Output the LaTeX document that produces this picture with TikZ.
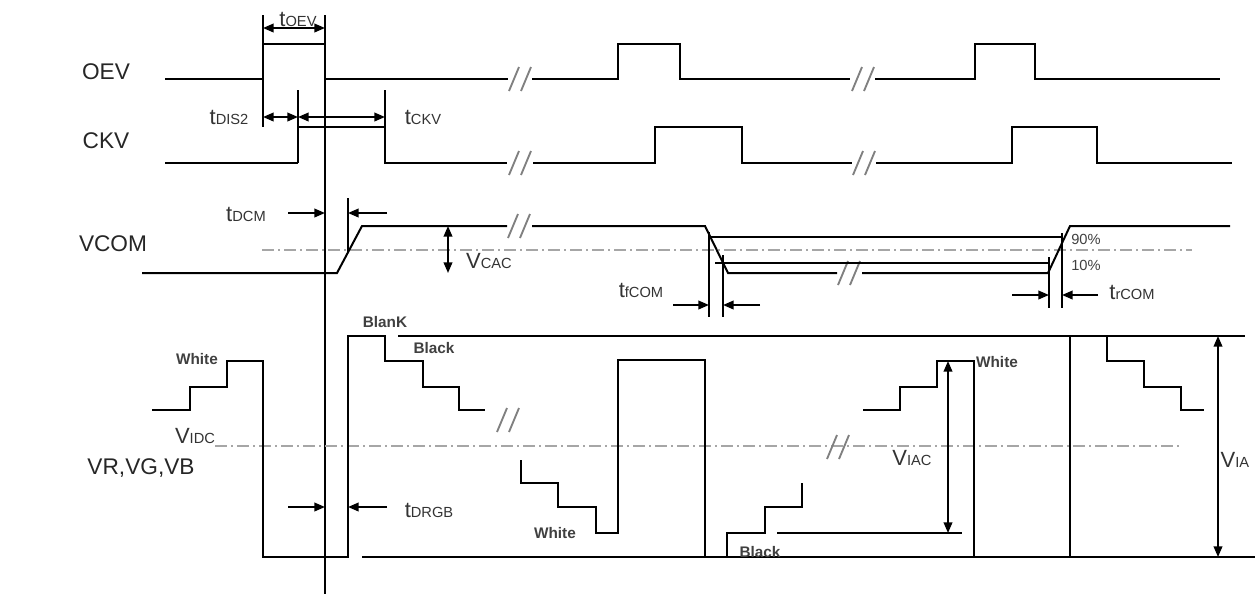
\documentclass[tikz,border=0pt]{standalone}
\usepackage{fontspec}
\setmainfont{Liberation Sans}
\usetikzlibrary{arrows.meta}
\newcommand\lowtxt[1]{{\fontsize{11}{11}\selectfont #1}}
\newcommand\brkmark[2]{%
  \draw[brk] ({#1-11},{#2+12})--({#1-1},{#2-12});
  \draw[brk] ({#1+1},{#2+12})--({#1+11},{#2-12});}
\tikzset{
  sig/.style={line width=1.5pt, line join=miter},
  dd/.style={black!35, line width=1.1pt, dash pattern=on 9pt off 3pt on 1.5pt off 3pt},
  brk/.style={black!50, line width=1.4pt},
  dim/.style={line width=1.3pt, -{Triangle[length=8pt,width=6.5pt]}},
  ddim/.style={line width=1.3pt, {Triangle[length=8pt,width=6.5pt]}-{Triangle[length=8pt,width=6.5pt]}},
  big/.style={font=\fontsize{17}{17}\selectfont, text=black!85, inner sep=0pt},
  tl/.style={font=\fontsize{16.5}{16.5}\selectfont, text=black!80, inner sep=0pt},
  wb/.style={font=\bfseries\fontsize{11.5}{11.5}\selectfont, text=black!75, inner sep=0pt},
  pct/.style={font=\fontsize{11}{11}\selectfont, text=black!75, inner sep=0pt},
}
\begin{document}
\begin{tikzpicture}[x=0.75pt,y=-0.75pt]
\useasboundingbox (0,0) rectangle (1257,594);
% ---------- signal names
\node[big] (nOEV) at (106,72) {OEV};
\node[big] (nCKV) at (106,141) {CKV};
\node[big] (nVCOM) at (113,244) {VCOM};
\node[big] (nVR) at (141,468) {VR,VG,VB};
% ---------- OEV
\draw[sig] (165,79)--(263,79);
\draw[sig] (263,15)--(263,127);
\draw[sig] (263,44)--(325,44);
\draw[sig] (325,15)--(325,594);
\draw[sig] (325,79)--(508,79);
\brkmark{520}{79}
\draw[sig] (532,79)--(618,79)--(618,44)--(680,44)--(680,79)--(850,79);
\brkmark{863}{79}
\draw[sig] (875,79)--(975,79)--(975,44)--(1035,44)--(1035,79)--(1220,79);
\draw[ddim] (263,28)--(325,28);
\node[tl] (ltOEV) at (298,19) {t\lowtxt{OEV}};
% ---------- CKV
\draw[sig] (165,163)--(298,163);
\draw[sig] (298,90)--(298,163);
\draw[sig] (298,127)--(385,127);
\draw[sig] (385,90)--(385,163)--(507,163);
\brkmark{520}{163}
\draw[sig] (533,163)--(655,163)--(655,127)--(742,127)--(742,163)--(852,163);
\brkmark{864}{163}
\draw[sig] (876,163)--(1012,163)--(1012,127)--(1097,127)--(1097,163)--(1232,163);
\draw[ddim] (263,117)--(298,117);
\draw[ddim] (298,117)--(385,117);
\node[tl] (ltDIS) at (229,117) {t\lowtxt{DIS2}};
\node[tl] (ltCKV) at (423,117) {t\lowtxt{CKV}};
% ---------- VCOM
\draw[dd] (262,250)--(1192,250);
\draw[sig] (142,273)--(337,273)--(362,226)--(507,226);
\brkmark{519}{226}
\draw[sig] (532,226)--(705,226)--(728,273)--(837,273);
\brkmark{849}{273}
\draw[sig] (862,273)--(1048,273)--(1070,226)--(1230,226);
\draw[sig] (709,237)--(1062,237);
\draw[sig] (715,263)--(1049,263);
\draw[sig] (348,198)--(348,252);
\draw[dim] (288,213)--(325,213);
\draw[dim] (387,213)--(348,213);
\node[tl] (ltDCM) at (246,214) {t\lowtxt{DCM}};
\draw[ddim] (448,226)--(448,273);
\node[tl] (lVCAC) at (489,261) {V\lowtxt{CAC}};
\draw[sig] (709,232)--(709,317);
\draw[sig] (723,255)--(723,317);
\draw[dim] (673,305)--(709,305);
\draw[dim] (760,305)--(723,305);
\node[tl] (ltfCOM) at (641,290) {t\lowtxt{fCOM}};
\draw[sig] (1049,257)--(1049,308);
\draw[sig] (1062,233)--(1062,308);
\draw[dim] (1012,295)--(1049,295);
\draw[dim] (1098,295)--(1062,295);
\node[tl] (ltrCOM) at (1132,292) {t\lowtxt{rCOM}};
\node[pct] (p90) at (1086,239) {90\%};
\node[pct] (p10) at (1086,265) {10\%};
% ---------- VR,VG,VB
\draw[dd] (215,446)--(1180,446);
\node[tl] (lVIDC) at (195,436) {V\lowtxt{IDC}};
\draw[sig] (152,410)--(190,410)--(190,387)--(227,387)--(227,361)--(263,361)--(263,557)--(348,557)--(348,336)--(385,336)--(385,361)--(423,361)--(423,387)--(459,387)--(459,410)--(485,410);
\brkmark{508}{420}
\draw[sig] (521,460)--(521,483)--(558,483)--(558,507)--(596,507)--(596,533)--(618,533)--(618,360)--(705,360)--(705,557);
\draw[sig] (727,557)--(727,533)--(765,533)--(765,507)--(802,507)--(802,483);
\draw[sig] (777,533)--(962,533);
\brkmark{838}{447}
\draw[sig] (863,410)--(900,410)--(900,387)--(937,387)--(937,361)--(974,361)--(974,557);
\draw[sig] (1070,336)--(1070,557);
\draw[sig] (1107,336)--(1107,361)--(1144,361)--(1144,387)--(1181,387)--(1181,410)--(1204,410);
\draw[sig] (398,336)--(1245,336);
\draw[sig] (362,557)--(1255,557);
\draw[ddim] (948,361)--(948,533);
\draw[ddim] (1218,336)--(1218,557);
\draw[dim] (288,507)--(325,507);
\draw[dim] (387,507)--(348,507);
\node[tl] (ltDRGB) at (429,510) {t\lowtxt{DRGB}};
\node[tl] (lVIAC) at (912,458) {V\lowtxt{IAC}};
\node[tl] (lVIA) at (1235,460) {V\lowtxt{IA}};
\node[wb] (w1) at (197,359) {White};
\node[wb] (w2) at (555,533) {White};
\node[wb] (w3) at (997,362) {White};
\node[wb] (b1) at (434,348) {Black};
\node[wb] (b2) at (760,552) {Black};
\node[wb] (bk) at (385,322) {BlanK};
\end{tikzpicture}
\end{document}
